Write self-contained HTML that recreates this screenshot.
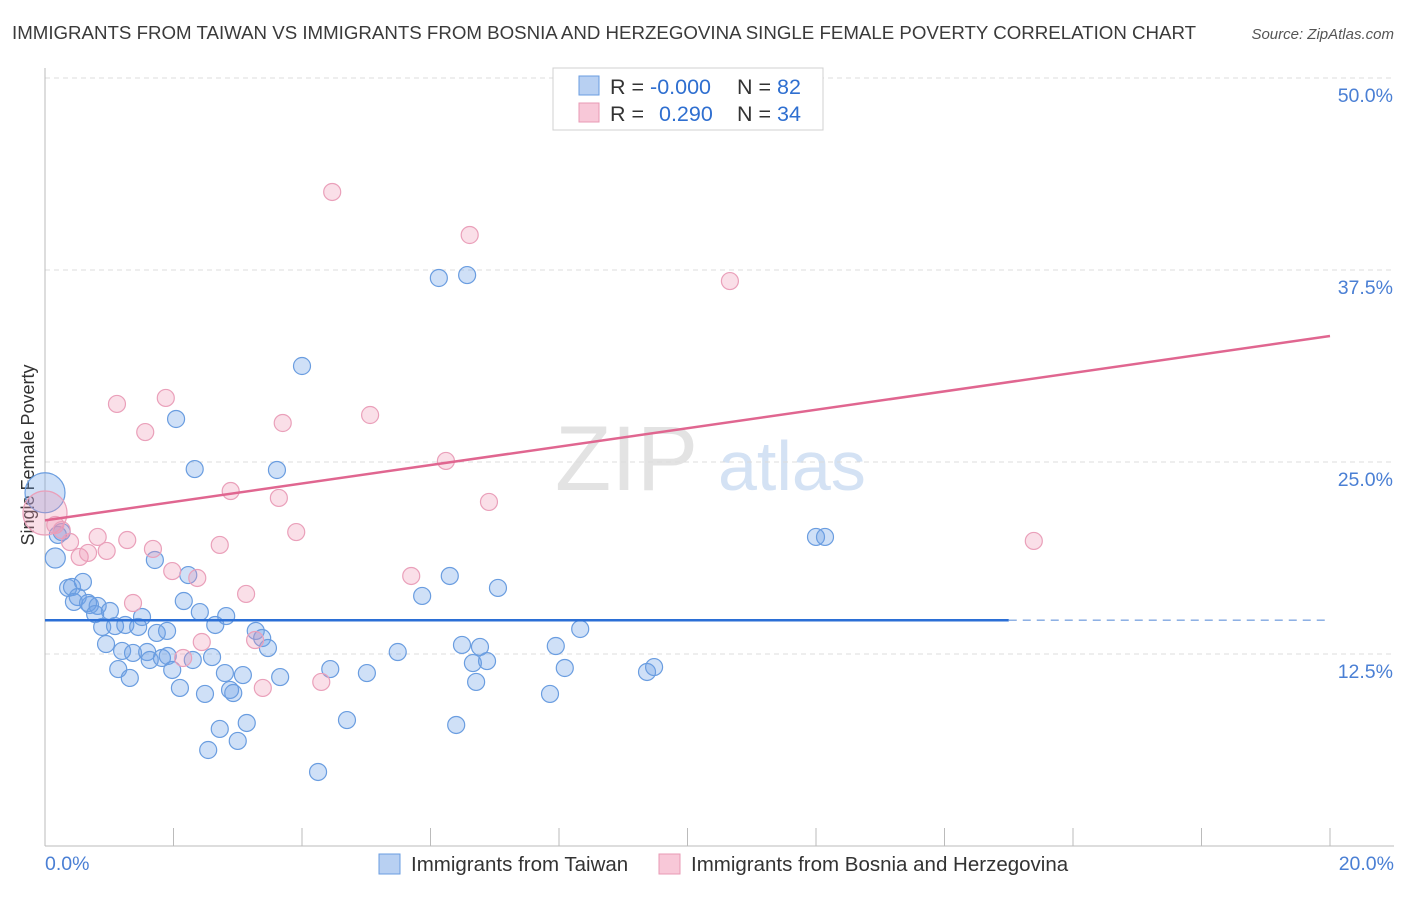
<!DOCTYPE html>
<html><head><meta charset="utf-8">
<style>
body{margin:0;background:#fff;font-family:"Liberation Sans",sans-serif;}
svg text{font-family:"Liberation Sans",sans-serif;}
</style></head>
<body>
<svg id="chart" width="1406" height="892" xmlns="http://www.w3.org/2000/svg">
<text x="12" y="39" font-size="18.7" fill="#3a3a3a">IMMIGRANTS FROM TAIWAN VS IMMIGRANTS FROM BOSNIA AND HERZEGOVINA SINGLE FEMALE POVERTY CORRELATION CHART</text>
<text x="1394" y="39" font-size="15" fill="#555" text-anchor="end" font-style="italic">Source: ZipAtlas.com</text>
<text x="555" y="490" font-size="92" fill="#e3e3e3" font-family="Liberation Serif">ZIP</text>
<text x="718" y="490" font-size="70" fill="#d4e2f4">atlas</text>
<text transform="translate(34,455) rotate(-90)" font-size="18" fill="#333" text-anchor="middle">Single Female Poverty</text>
<g id="grid"></g><g id="axes"></g><g id="pts"></g><g id="lines"></g>
<g>
<rect x="553" y="68" width="270" height="62" fill="#fff" stroke="#d0d0d0"/>
<rect x="579" y="76" width="20" height="19" fill="#b8d0f2" stroke="#6a9de0"/>
<rect x="579" y="103" width="20" height="19" fill="#f8c8d8" stroke="#e89ab4"/>
<text x="610" y="94" font-size="21.5" fill="#333">R = <tspan fill="#2f6fd0">-0.000</tspan></text>
<text x="737" y="94" font-size="21.5" fill="#333">N = <tspan fill="#2f6fd0">82</tspan></text>
<text x="610" y="121" font-size="21.5" fill="#333">R = <tspan fill="#2f6fd0" x="659">0.290</tspan></text>
<text x="737" y="121" font-size="21.5" fill="#333">N = <tspan fill="#2f6fd0">34</tspan></text>
</g>
<g>
<rect x="379" y="854" width="21" height="20" fill="#b8d0f2" stroke="#6a9de0"/>
<text x="411" y="871" font-size="20.5" fill="#333">Immigrants from Taiwan</text>
<rect x="659" y="854" width="21" height="20" fill="#f8c8d8" stroke="#e89ab4"/>
<text x="691" y="871" font-size="20.5" fill="#333">Immigrants from Bosnia and Herzegovina</text>
</g>
</svg>
<script>
const blueX=[0,0.16,0.26,0.20,0.36,0.42,0.59,0.51,0.45,0.70,0.67,0.82,0.78,1.01,0.89,0.95,1.09,1.25,1.14,1.20,1.32,1.37,1.45,1.51,1.59,1.63,1.71,1.74,1.82,1.91,1.90,1.98,2.04,2.10,2.16,2.23,2.30,2.33,2.41,2.49,2.54,2.60,2.65,2.72,2.80,2.82,2.88,2.93,3.00,3.08,3.14,3.28,3.38,3.47,3.61,3.66,4.00,4.25,4.44,4.70,5.01,5.49,5.87,6.13,6.30,6.40,6.49,6.57,6.66,6.71,6.77,6.88,7.05,7.86,7.95,8.09,8.33,9.37,9.48,12.00,12.14];
const blueY=[23.0,18.75,20.44,20.25,16.80,16.86,17.19,16.21,15.89,15.69,15.82,15.63,15.10,15.30,14.26,13.15,14.32,14.39,11.52,12.70,10.94,12.57,14.26,14.91,12.63,12.11,18.62,13.87,12.24,12.37,14.00,11.46,27.80,10.29,15.95,17.64,12.11,24.54,15.23,9.90,6.25,12.30,14.39,7.62,11.26,14.97,10.16,9.96,6.84,11.13,8.01,14.00,13.54,12.89,24.48,11.00,31.25,4.82,11.52,8.20,11.26,12.63,16.28,36.98,17.58,7.88,13.09,37.17,11.91,10.68,12.96,12.04,16.80,9.90,13.02,11.59,14.13,11.33,11.65,20.12,20.12];
const pinkX=[0,0.16,0.26,0.39,0.54,0.67,0.82,0.96,1.12,1.28,1.37,1.56,1.68,1.88,1.98,2.15,2.37,2.44,2.72,2.89,3.13,3.27,3.39,3.64,3.70,3.91,4.30,4.47,5.06,5.70,6.24,6.61,6.91,10.66,15.39];
const pinkY=[21.68,20.90,20.57,19.79,18.82,19.08,20.12,19.21,28.78,19.92,15.82,26.95,19.34,29.17,17.90,12.24,17.45,13.28,19.60,23.11,16.41,13.41,10.29,22.66,27.54,20.44,10.68,42.58,28.06,17.58,25.07,39.78,22.40,36.78,19.86];
const yTicks=[12.5,25.0,37.5,50.0];
const xTickVals=[0,2,4,6,8,10,12,14,16,18,20];
const blueTrend=[14.7,14.7];
const pinkTrend=[21.2,33.2];
const NS="http://www.w3.org/2000/svg";
const X=v=>45+v/20*1285, Y=v=>846-v/12.5*192;
function mk(p,t,a){const e=document.createElementNS(NS,t);for(const k in a)e.setAttribute(k,a[k]);document.getElementById(p).appendChild(e);return e;}
yTicks.forEach(v=>{
 const l=mk('grid','line',{x1:45,x2:1394,y1:Y(v),y2:Y(v),stroke:'#dcdcdc','stroke-dasharray':'5,4'});
 
 
 const t=mk('axes','text',{x:1393,y:Y(v)+24,'font-size':19.5,fill:'#4a7fd4','text-anchor':'end'});
 t.textContent=v.toFixed(1)+'%';
 
 
});
const ax=mk('axes','line',{x1:45,x2:45,y1:68,y2:846,stroke:'#bbb'});


const bx=mk('axes','line',{x1:45,x2:1394,y1:846,y2:846,stroke:'#bbb'});


xTickVals.forEach(v=>{
 const t=mk('axes','line',{x1:X(v),x2:X(v),y1:828,y2:846,stroke:'#bbb'});
 
 
});
[[0,'start',45],[20,'end',1394]].forEach(([v,a,px])=>{
 const t=mk('axes','text',{x:px,y:870,'font-size':19.5,fill:'#4a7fd4','text-anchor':a});
 t.textContent=v.toFixed(1)+'%';
 
 
});
blueX.forEach((v,i)=>{
 const c=mk('pts','circle',{cx:X(v),cy:Y(blueY[i]),r:i==0?20:(i==1?10:8.5),fill:'rgba(110,160,230,0.33)',stroke:'#6a9de0','stroke-width':1.2});
 
 
});
pinkX.forEach((v,i)=>{
 const c=mk('pts','circle',{cx:X(v),cy:Y(pinkY[i]),r:i==0?22:8.5,fill:'rgba(240,150,180,0.3)',stroke:'#eaa0ba','stroke-width':1.2});
 
 
});
const bl=mk('lines','line',{x1:X(0),x2:X(15),y1:Y(blueTrend[0]),y2:Y(blueTrend[0]),stroke:'#2b6fd6','stroke-width':2.5});


const bd=mk('lines','line',{x1:X(15),x2:X(20),y1:Y(blueTrend[1]),y2:Y(blueTrend[1]),stroke:'#7fa6e0','stroke-width':1.3,'stroke-dasharray':'8,6'});


const pl=mk('lines','line',{x1:X(0),x2:X(20),y1:Y(pinkTrend[0]),y2:Y(pinkTrend[1]),stroke:'#e06690','stroke-width':2.5});


</script>
</body></html>
